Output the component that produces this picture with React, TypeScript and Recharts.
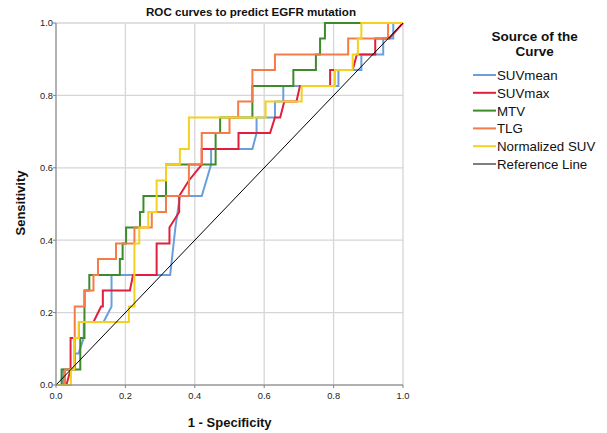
import React from 'react';
import { LineChart, Line, XAxis, YAxis, CartesianGrid } from 'recharts';

// ROC curve points (1 - specificity, sensitivity)
const suvmeanFpr = [0, 0.021, 0.021, 0.054, 0.054, 0.065, 0.08, 0.08, 0.137, 0.16, 0.16, 0.329, 0.344, 0.357, 0.42, 0.447, 0.447, 0.566, 0.578, 0.578, 0.631, 0.631, 0.655, 0.655, 0.814, 0.814, 0.88, 0.88, 0.943, 0.943, 0.972, 0.972, 1];
const suvmeanTpr = [0, 0, 0.043, 0.043, 0.087, 0.087, 0.13, 0.174, 0.174, 0.217, 0.304, 0.304, 0.435, 0.522, 0.522, 0.609, 0.652, 0.652, 0.696, 0.739, 0.739, 0.783, 0.783, 0.826, 0.826, 0.87, 0.87, 0.913, 0.913, 0.957, 0.957, 1, 1];

const suvmaxFpr = [0, 0.03, 0.042, 0.042, 0.066, 0.066, 0.108, 0.13, 0.135, 0.135, 0.213, 0.222, 0.29, 0.29, 0.327, 0.327, 0.355, 0.355, 0.383, 0.42, 0.42, 0.526, 0.526, 0.617, 0.631, 0.646, 0.658, 0.693, 0.703, 0.79, 0.79, 0.855, 0.867, 0.92, 0.92, 0.96, 1];
const suvmaxTpr = [0, 0, 0.043, 0.13, 0.13, 0.174, 0.174, 0.217, 0.217, 0.261, 0.261, 0.304, 0.304, 0.391, 0.391, 0.435, 0.478, 0.522, 0.565, 0.609, 0.652, 0.652, 0.696, 0.696, 0.739, 0.739, 0.783, 0.783, 0.826, 0.826, 0.87, 0.87, 0.913, 0.913, 0.957, 0.957, 1];

const mtvFpr = [0, 0.016, 0.016, 0.07, 0.07, 0.082, 0.082, 0.096, 0.096, 0.184, 0.184, 0.192, 0.192, 0.202, 0.202, 0.242, 0.242, 0.252, 0.252, 0.317, 0.317, 0.46, 0.46, 0.473, 0.473, 0.566, 0.566, 0.684, 0.684, 0.749, 0.749, 0.761, 0.761, 0.775, 0.775, 1];
const mtvTpr = [0, 0, 0.043, 0.043, 0.13, 0.13, 0.261, 0.261, 0.304, 0.304, 0.348, 0.348, 0.391, 0.391, 0.435, 0.435, 0.478, 0.478, 0.522, 0.522, 0.609, 0.609, 0.696, 0.696, 0.739, 0.739, 0.826, 0.826, 0.87, 0.87, 0.913, 0.913, 0.957, 0.957, 1, 1];

const tlgFpr = [0, 0.026, 0.026, 0.054, 0.054, 0.083, 0.083, 0.108, 0.108, 0.121, 0.121, 0.173, 0.173, 0.226, 0.226, 0.276, 0.276, 0.317, 0.317, 0.383, 0.383, 0.42, 0.42, 0.5, 0.5, 0.525, 0.525, 0.566, 0.566, 0.631, 0.631, 0.842, 0.842, 0.957, 0.957, 1];
const tlgTpr = [0, 0, 0.043, 0.043, 0.217, 0.217, 0.261, 0.261, 0.304, 0.304, 0.348, 0.348, 0.391, 0.391, 0.435, 0.435, 0.478, 0.478, 0.522, 0.522, 0.609, 0.609, 0.696, 0.696, 0.739, 0.739, 0.783, 0.783, 0.87, 0.87, 0.913, 0.913, 0.957, 0.957, 1, 1];

const normFpr = [0, 0.043, 0.043, 0.052, 0.052, 0.066, 0.066, 0.21, 0.21, 0.226, 0.226, 0.24, 0.24, 0.266, 0.266, 0.29, 0.29, 0.317, 0.317, 0.357, 0.357, 0.383, 0.383, 0.604, 0.604, 0.708, 0.708, 0.804, 0.804, 0.855, 0.855, 0.87, 0.87, 0.88, 0.88, 1];
const normTpr = [0, 0, 0.043, 0.043, 0.13, 0.13, 0.174, 0.174, 0.217, 0.217, 0.391, 0.391, 0.435, 0.435, 0.478, 0.478, 0.565, 0.565, 0.609, 0.609, 0.652, 0.652, 0.739, 0.739, 0.783, 0.783, 0.826, 0.826, 0.87, 0.87, 0.913, 0.913, 0.957, 0.957, 1, 1];

const refFpr = [0, 1];
const refTpr = [0, 1];

const axisTicks = [0, 0.2, 0.4, 0.6, 0.8, 1.0];

const seriesNames = ['SUVmean', 'SUVmax', 'MTV', 'TLG', 'Normalized SUV', 'Reference Line'];
const seriesColors = ['#6a9fdb', '#e11f3c', '#3d8b2a', '#f47c48', '#f3d11c', '#000000'];

const toPoints = (xs: number[], ys: number[]) => xs.map((x, i) => ({ x, y: ys[i] }));

const seriesData = [
  toPoints(suvmeanFpr, suvmeanTpr),
  toPoints(suvmaxFpr, suvmaxTpr),
  toPoints(mtvFpr, mtvTpr),
  toPoints(tlgFpr, tlgTpr),
  toPoints(normFpr, normTpr),
  toPoints(refFpr, refTpr),
];

const FONT = '"Liberation Sans", Arial, sans-serif';

export default function App() {
  return (
    <div style={{ position: 'absolute', left: 0, top: 0, width: 607, height: 433, background: '#fff', fontFamily: FONT }}>
      <LineChart
        width={607}
        height={433}
        margin={{ top: 23, right: 204, bottom: 0, left: 0 }}
        style={{ fontFamily: FONT }}
      >
        <CartesianGrid stroke="#d6d6d6" strokeWidth={1.3} />
        <XAxis
          type="number"
          dataKey="x"
          domain={[0, 1]}
          ticks={axisTicks}
          allowDuplicatedCategory={false}
          height={48}
          tickSize={3}
          tickMargin={4}
          tickFormatter={(v: number) => v.toFixed(1)}
          tick={{ fontSize: 9.3, fill: '#222' }}
          stroke="#808080"
        />
        <YAxis
          type="number"
          dataKey="y"
          domain={[0, 1]}
          ticks={axisTicks}
          width={56}
          tickSize={3}
          tickMargin={0}
          tickFormatter={(v: number) => v.toFixed(1)}
          tick={{ fontSize: 9.3, fill: '#222' }}
          stroke="#808080"
        />
        {seriesData.map((d, i) => (
          <Line
            key={seriesNames[i]}
            data={d}
            dataKey="y"
            type="linear"
            stroke={seriesColors[i]}
            strokeWidth={i === 5 ? 1 : 2}
            dot={false}
            activeDot={false}
            isAnimationActive={false}
            name={seriesNames[i]}
          />
        ))}
      </LineChart>
      <svg width={607} height={433} style={{ position: 'absolute', left: 0, top: 0, pointerEvents: 'none' }}>
        <text x={251} y={15.5} textAnchor="middle" fontSize={11.6} fontWeight="bold" fontFamily={FONT} fill="#111">
          ROC curves to predict EGFR mutation
        </text>
        <text x={229.7} y={426.5} textAnchor="middle" fontSize={13} fontWeight="bold" fontFamily={FONT} fill="#111">
          1 - Specificity
        </text>
        <text
          x={0}
          y={0}
          transform="translate(24.5,203) rotate(-90)"
          textAnchor="middle"
          fontSize={13}
          fontWeight="bold"
          fontFamily={FONT}
          fill="#111"
        >
          Sensitivity
        </text>
        <text x={534.7} y={41} textAnchor="middle" fontSize={13.5} fontWeight="bold" fontFamily={FONT} fill="#111">
          Source of the
        </text>
        <text x={534.7} y={56} textAnchor="middle" fontSize={13.5} fontWeight="bold" fontFamily={FONT} fill="#111">
          Curve
        </text>
        {seriesNames.map((n, i) => {
          const base = 80 + i * 17.8;
          return (
            <g key={n}>
              <line x1={473} x2={496} y1={base - 5} y2={base - 5} stroke={seriesColors[i]} strokeWidth={i === 5 ? 1 : 2} />
              <text x={497} y={base} fontSize={13.3} fontFamily={FONT} fill="#111">
                {n}
              </text>
            </g>
          );
        })}
      </svg>
    </div>
  );
}
